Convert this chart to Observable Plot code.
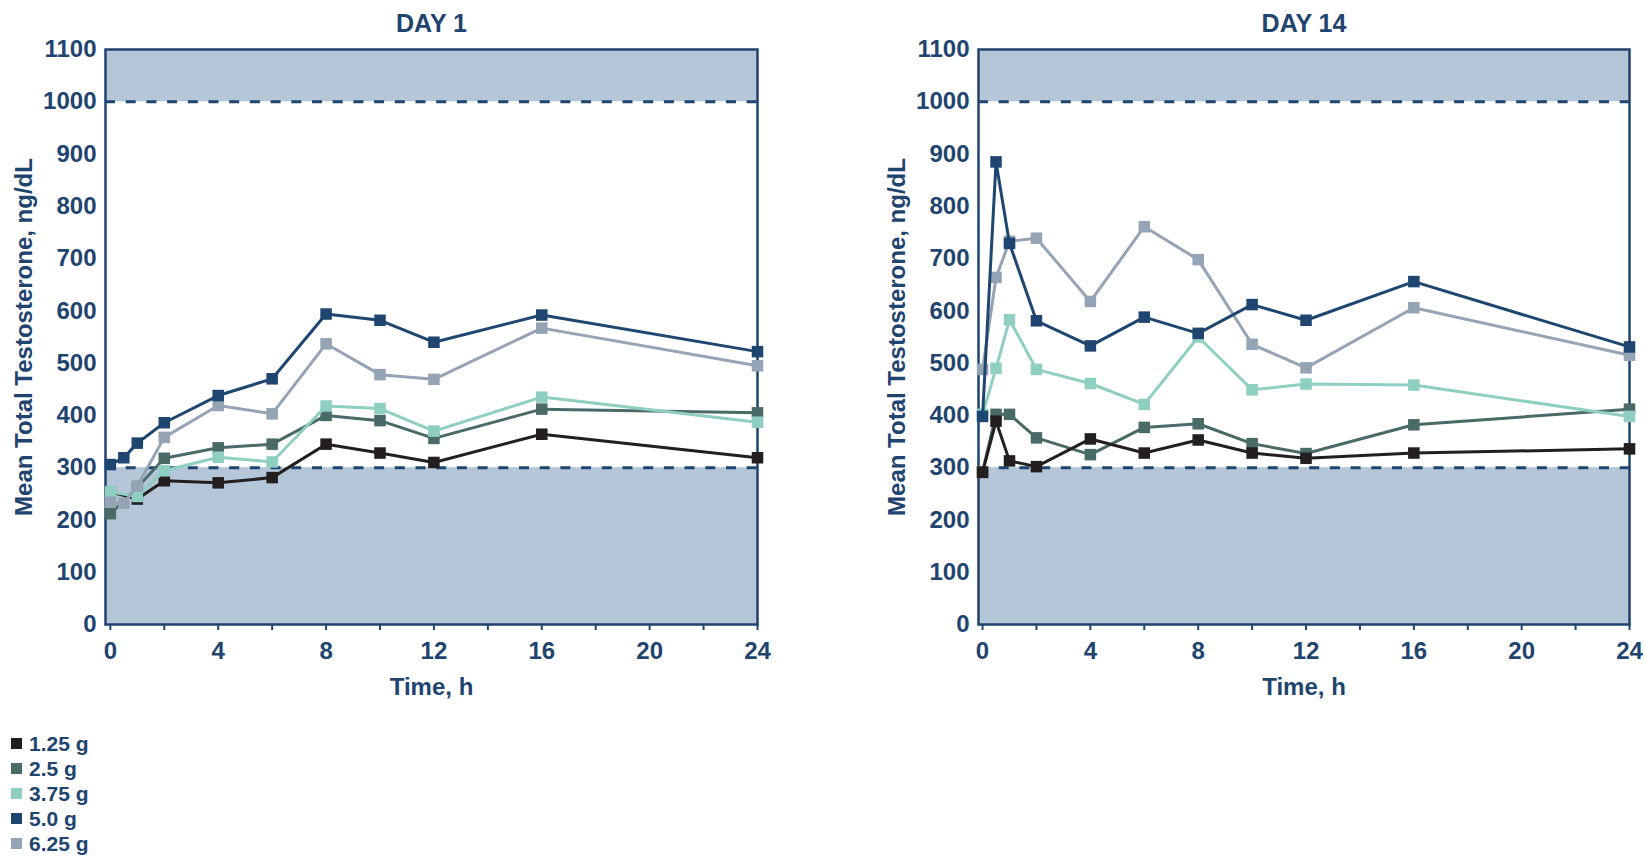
<!DOCTYPE html>
<html><head><meta charset="utf-8">
<script src="https://cdn.jsdelivr.net/npm/d3@7"></script>
<script src="https://cdn.jsdelivr.net/npm/@observablehq/plot@0.6"></script>
<style>
body{margin:0;background:#fff;font-family:"Liberation Sans",Arial,sans-serif;}
#row{display:flex;align-items:flex-start;}
#legend{padding-left:11px;color:#1f446f;font-weight:bold;font-size:21px;}
.item{height:25px;display:flex;align-items:center;}
.sw{width:11px;height:11px;margin-right:7px;}
</style></head><body>
<div id="row"></div><div id="legend"></div>
<script>
// ---- data ----
const times = [0, 0.5, 1, 2, 4, 6, 8, 10, 12, 16, 24];
const doses = ["1.25 g", "2.5 g", "3.75 g", "5.0 g", "6.25 g"];
const colors = ["#231f20", "#4a6a67", "#8fcfc1", "#1f4571", "#95a4b4"];

const day1_125 = [254, null, 240, 275, 271, 281, 345, 328, 310, 364, 319];
const day1_250 = [212, null, 262, 318, 338, 345, 400, 390, 356, 412, 405];
const day1_375 = [254, null, 245, 294, 320, 311, 418, 413, 370, 435, 387];
const day1_500 = [306, 319, 347, 386, 438, 470, 594, 582, 540, 592, 522];
const day1_625 = [234, 232, 265, 358, 419, 403, 537, 478, 469, 567, 495];

const day14_125 = [291, 389, 313, 302, 355, 328, 353, 328, 318, 328, 336];
const day14_250 = [292, 402, 402, 357, 325, 377, 384, 346, 327, 382, 412];
const day14_375 = [402, 490, 583, 488, 461, 421, 550, 449, 460, 458, 398];
const day14_500 = [398, 885, 729, 581, 533, 588, 557, 612, 582, 656, 531];
const day14_625 = [488, 664, 733, 739, 618, 761, 698, 536, 491, 606, 515];

const yTicks = [0, 100, 200, 300, 400, 500, 600, 700, 800, 900, 1000, 1100];
const xTicks = [0, 2, 4, 6, 8, 10, 12, 14, 16, 18, 20, 22, 24];
const xLabels = [0, 4, 8, 12, 16, 20, 24];
const normalLow = 300, normalHigh = 1000, yMax = 1100;
const titles = ["DAY 1", "DAY 14"];
const xLabel = "Time, h";
const yLabel = "Mean Total Testosterone, ng/dL";

// ---- styles ----
const navy = "#1f446f";
const band = "#b4c6d7";
const drawOrder = [1, 0, 2, 4, 3]; // series stacking order

function panel(title, series, width, marginRight, xmin) {
  const bands = [{lo: 0, hi: normalLow}, {lo: normalHigh, hi: yMax}];
  const seriesMarks = [];
  drawOrder.forEach(i => {
    const rows = [];
    series[i].forEach((v, j) => { if (v != null) rows.push({t: times[j], v, dose: doses[i]}); });
    seriesMarks.push(Plot.line(rows, {x: "t", y: "v", stroke: colors[i], strokeWidth: 3}));
    seriesMarks.push(Plot.dot(rows, {x: "t", y: "v", fill: colors[i], symbol: "square", r: 6.5}));
  });
  return Plot.plot({
    width, height: 731,
    marginLeft: 105, marginRight, marginTop: 49, marginBottom: 107,
    style: {fontFamily: '"Liberation Sans", Arial, sans-serif', fontSize: "24px", fontWeight: "bold", color: navy, background: "#fff"},
    x: {domain: [xmin, 24]},
    y: {domain: [0, yMax]},
    marks: [
      Plot.rect(bands, {y1: "lo", y2: "hi", fill: band}),
      Plot.ruleY([normalLow, normalHigh], {stroke: navy, strokeWidth: 3, strokeDasharray: "10,10.7"}),
      Plot.axisY(yTicks, {tickSize: 0, tickPadding: 9, fontSize: 24, label: null, tickFormat: d => String(d)}),
      Plot.axisX(xTicks, {tickSize: 6, tickPadding: 11, strokeWidth: 2, fontSize: 24, label: null,
        tickFormat: d => xLabels.includes(d) ? String(d) : ""}),
      Plot.frame({stroke: navy, strokeWidth: 2.5}),
      ...seriesMarks,
      Plot.text([title], {text: d => d, frameAnchor: "top", lineAnchor: "middle", textAnchor: "middle", dy: -26, fontSize: 25}),
      Plot.text([xLabel], {text: d => d, frameAnchor: "bottom", lineAnchor: "middle", textAnchor: "middle", dy: 63, fontSize: 24}),
      Plot.text([yLabel], {text: d => d, frameAnchor: "left", lineAnchor: "middle", textAnchor: "middle", rotate: -90, dx: -81, fontSize: 24})
    ]
  });
}

const row = document.getElementById("row");
row.append(panel(titles[0], [day1_125, day1_250, day1_375, day1_500, day1_625], 873, 116, -0.18));
row.append(panel(titles[1], [day14_125, day14_250, day14_375, day14_500, day14_625], 772, 16, -0.15));

const legend = document.getElementById("legend");
doses.forEach((d, i) => {
  const it = document.createElement("div");
  it.className = "item";
  it.innerHTML = `<span class="sw" style="background:${colors[i]}"></span><span>${d}</span>`;
  legend.append(it);
});
</script>
</body></html>
